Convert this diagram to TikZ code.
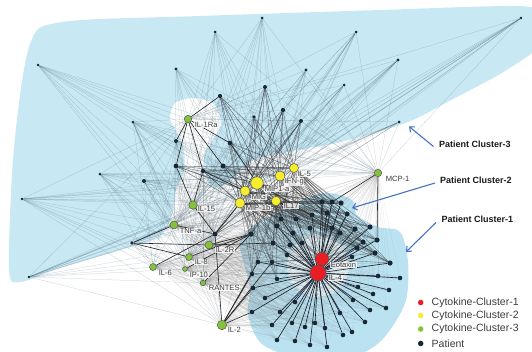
\documentclass[tikz,border=0pt]{standalone}
\usepackage{fontspec}
\setmainfont{Liberation Sans}
\usetikzlibrary{arrows.meta}
\pgfdeclarelayer{hull}
\pgfdeclarelayer{edges}
\pgfsetlayers{hull,edges,main}
\definecolor{hullblue}{RGB}{200,232,244}
\definecolor{hullone}{RGB}{186,226,241}
\definecolor{patcol}{RGB}{24,38,54}
\definecolor{grncol}{RGB}{132,194,60}
\definecolor{yelcol}{RGB}{244,238,44}
\definecolor{redcol}{RGB}{232,30,36}
\definecolor{ltedge}{RGB}{70,95,110}
\definecolor{arrcol}{RGB}{68,114,196}
\definecolor{txtcol}{RGB}{60,60,60}
\tikzset{
  pat/.style={circle, fill=patcol, inner sep=0pt, minimum size=#1},
  pat/.default=3pt,
  cyt/.style 2 args={circle, draw=black!70, line width=0.45pt, fill=#1, inner sep=0pt, minimum size=#2},
  lbl/.style={anchor=west, font=\fontsize{7.6}{8}\selectfont, text=txtcol, fill=white, fill opacity=0.8, text opacity=1, inner xsep=0.6pt, inner ysep=0.4pt},
  ann/.style={anchor=west, font=\fontsize{9}{10}\selectfont\bfseries, text=black!90, inner sep=0pt},
  lgtxt/.style={anchor=west, font=\fontsize{10.5}{12}\selectfont, text=txtcol, inner sep=0pt},
  lgdot/.style={circle, fill=#1, inner sep=0pt, minimum size=5.5pt},
  arr/.style={draw=arrcol, line width=1.1pt, -{Straight Barb[length=4pt,width=7pt]}},
  lt/.style={draw=ltedge, line width=0.22pt, draw opacity=0.33},
  gl/.style={draw=gray, line width=0.2pt, draw opacity=0.22},
  md/.style={draw=black!85, line width=0.35pt, draw opacity=0.55},
  dk/.style={draw=black!85, line width=0.6pt},
  cone/.style={draw=patcol, line width=0.65pt}
}
\begin{document}
\begin{tikzpicture}[x=1pt,y=-1pt]
\useasboundingbox (0,0) rectangle (532,351);
% ---------- patients, cluster 3 ----------
\foreach \n/\x/\y/\s in {1/262/18/3,2/215/32/3,3/356/32/3,4/521/18/2.6,5/38/65/2.6,6/176/69/3.2,7/306/70/3.2,8/398/60/3.2,9/344/85/3,10/265/87/4,11/220/96/4.2,12/283/110/4.2,13/254/117/3.6,14/301/121/4,15/133/122/3,16/399/122/3,17/230/143/4.6,18/176/141/4,19/100/174/3,20/144/181/4,21/22/199/2.6,22/29/277/2.6,23/132/243/3.8,24/176/166/4.8,25/223/166/5,26/203/171/4.4,27/215/234/5,28/251/234/5.5}
  \node[pat=\s pt] (t\n) at (\x,\y) {};
% ---------- patients, clusters 1 and 2 ----------
\foreach \n/\x/\y in {1/322/202,2/332/202,3/341/203,4/327/213,5/347/214,6/312/215,7/296/219,8/281/219,9/310/228,10/293/233,11/277/226,12/273/243,13/290/245,14/302/243,15/332/228,16/340/233,17/355/229,18/370/227,19/377/240,20/363/242,21/357/248,22/375/253,23/390/263}
  \node[pat=5.2pt] (a\n) at (\x,\y) {};
\foreach \n/\x/\y in {24/258/262,25/272/262,26/287/255,27/252/274,28/277/279,29/253/288,30/265/298,31/252/312,32/280/312,33/295/302,34/272/325,35/292/323,36/305/327,37/315/323,38/277/340,39/295/341,40/310/345,41/327/347,42/378/276,43/400/278,44/389/290,45/373/294,46/358/287,47/353/300,48/370/310,49/386/308,50/365/322,51/352/332,52/343/335,53/340/313,54/325/328,55/352/257}
  \node[pat=4.6pt] (a\n) at (\x,\y) {};
% ---------- cytokines ----------
\node[cyt={grncol}{7.5pt}] (IL1Ra) at (188,119) {};
\node[cyt={grncol}{7.5pt}] (MCP1) at (378,173) {};
\node[cyt={grncol}{8.5pt}] (IL15) at (193,205) {};
\node[cyt={grncol}{8pt}] (TNFa) at (174,225) {};
\node[cyt={grncol}{8pt}] (IL2R) at (209,245) {};
\node[cyt={grncol}{7pt}] (IL8) at (189,257) {};
\node[cyt={grncol}{7pt}] (IL6) at (153,267) {};
\node[cyt={grncol}{5pt}] (IP10) at (185,269) {};
\node[cyt={grncol}{5.5pt}] (RANTES) at (203,283) {};
\node[cyt={grncol}{9.5pt}] (IL2) at (222,325) {};
\node[cyt={yelcol}{9pt}] (IL5) at (294,168) {};
\node[cyt={yelcol}{10pt}] (IFN) at (280,176) {};
\node[cyt={yelcol}{12.5pt}] (MIP1a) at (257,183) {};
\node[cyt={yelcol}{10pt}] (MIG) at (245,191) {};
\node[cyt={yelcol}{10pt}] (MIP1b) at (240,203) {};
\node[cyt={yelcol}{9.5pt}] (IL17) at (276,201) {};
\node[cyt={redcol}{13.5pt}] (Eot) at (322,259) {};
\node[cyt={redcol}{16pt}] (IL4) at (318,273) {};
% ---------- labels ----------
\node[lbl] (lIL1Ra) at (194,125) {IL-1Ra};
\node[lbl] (lMCP1) at (385,179) {MCP-1};
\node[lbl] (lIL15) at (197,209) {IL-15};
\node[lbl] (lTNFa) at (179,231) {TNF-a};
\node[lbl] (lIL2R) at (215,250) {IL-2R};
\node[lbl] (lIL8) at (194,262) {IL-8};
\node[lbl] (lIL6) at (158,273) {IL-6};
\node[lbl] (lIP10) at (189,275) {IP-10};
\node[lbl] (lRANTES) at (208,288) {RANTES};
\node[lbl] (lIL2) at (227,330) {IL-2};
\node[lbl] (lIL5) at (297,174) {IL-5};
\node[lbl] (lIFN) at (284,182) {IFN-g};
\node[lbl] (lMIP1a) at (264,189) {MIP1-a};
\node[lbl] (lMIG) at (251,197) {MIG};
\node[lbl] (lMIP1b) at (245,208) {MIP-1b};
\node[lbl] (lIL17) at (283,206) {IL17};
\node[lbl] (lEot) at (330,265) {Eotaxin};
\node[lbl] (lIL4) at (328,278) {IL-4};
% ---------- annotations ----------
\node[ann] (pc3) at (439,144.5) {Patient Cluster-3};
\node[ann] (pc2) at (440,180.5) {Patient Cluster-2};
\node[ann] (pc1) at (441.5,219.5) {Patient Cluster-1};
\coordinate (e3) at (409,126.5);
\coordinate (e2) at (352,208);
\coordinate (e1) at (406,252);
\draw[arr] ([shift={(-5.5,2)}]pc3.west) -- (e3);
\draw[arr] ([shift={(-5,2.5)}]pc2.west) -- (e2);
\draw[arr] ([shift={(-5.5,3)}]pc1.west) -- (e1);
% ---------- legend ----------
\node[lgdot=redcol] (g1) at (420.7,302.5) {};
\node[lgdot=yelcol] (g2) at (420.7,315.5) {};
\node[lgdot=grncol] (g3) at (420.7,329) {};
\node[lgdot=patcol] (g4) at (420.7,343.5) {};
\node[lgtxt] (h1) at (431.5,302.5) {Cytokine-Cluster-1};
\node[lgtxt] (h2) at (431.5,315.5) {Cytokine-Cluster-2};
\node[lgtxt] (h3) at (431.5,329) {Cytokine-Cluster-3};
\node[lgtxt] (h4) at (431.5,343.5) {Patient};
% ---------- hulls ----------
\begin{pgfonlayer}{hull}
\begin{scope}
\clip (0,0) rectangle (532,351);
\fill[hullblue] plot[smooth cycle, tension=0.5] coordinates {(62,22) (200,16) (380,10) (512,6) (538,12) (545,41) (505,71) (455,98) (408,122) (345,141) (292,151) (258,158) (242,168) (230,182) (214,187) (206,176) (204,156) (211,142) (221,124) (214,104) (194,98) (175,103) (170,119) (178,134) (184,150) (184,170) (176,190) (172,215) (160,236) (120,250) (60,268) (20,282) (9,268) (14,148) (30,44)};
\fill[hullone] plot[smooth cycle, tension=0.55] coordinates {(328,193) (352,200) (357,215) (378,227) (400,232) (408,262) (406,300) (390,330) (372,348) (345,358) (300,358) (262,344) (248,315) (250,288) (243,260) (240,241) (255,224) (280,212) (305,199)};
\fill[gray!8, opacity=0.7] (318,266) circle (31);
\end{scope}
\end{pgfonlayer}
% ---------- edges ----------
\begin{pgfonlayer}{edges}
\foreach \i in {1,...,28}
  \foreach \c in {IL1Ra,MCP1,IL15,TNFa,IL2R,IL8,IL5,IFN,MIP1a,MIG,MIP1b,IL17}
    \draw[lt] (t\i) -- (\c);
\foreach \i in {15,18,19,20,21,22,23,24,26,27,28}
  \foreach \c in {IL6,IP10,RANTES,IL2}
    \draw[lt] (t\i) -- (\c);
\foreach \i in {1,...,55}
  \foreach \c in {IL2,IL6,IL8,IP10,RANTES,IL2R,TNFa,IL15,MCP1}
    \draw[gl] (a\i) -- (\c);
\foreach \i in {1,...,23}
  \foreach \c in {IL5,IFN,MIP1a,MIG,MIP1b,IL17}
    \draw[md] (a\i) -- (\c);
\foreach \i in {24,25,26,27,28}
  \foreach \c in {MIP1a,MIG,MIP1b,IL17}
    \draw[md] (a\i) -- (\c);
\foreach \i in {10,11,12,13,14,17,24,25,26,27,28}
  \foreach \c in {IL5,IFN,MIP1a,MIG,MIP1b,IL17}
    \draw[md] (t\i) -- (\c);
\foreach \i in {1,...,26}
  \draw[md] (Eot) -- (a\i);
\foreach \i in {1,...,55}
  \draw[cone] (IL4) -- (a\i);
\foreach \i in {25,26,27,28}
  \draw[md] (IL4) -- (t\i);
\foreach \a/\b in {IL1Ra/t11,IL1Ra/t17,IL1Ra/t18,IL1Ra/t24,IL1Ra/t25,IL1Ra/t26,IL15/t27,IL15/t24,IL15/t26,TNFa/t27,TNFa/t23,IL2R/t23,IL2R/t28,IL2R/a12,IL8/t23,IL8/t28,IL6/t27,IP10/t28,RANTES/t28,IL2/t27,IL2/a24,IL2/a27,IL2/a25,IL2/a29,IL2/a31,MCP1/a2,MCP1/a19,MIP1a/t17,MIP1b/t27,MIG/t26}
  \draw[dk] (\a) -- (\b);
\end{pgfonlayer}
\end{tikzpicture}
\end{document}
